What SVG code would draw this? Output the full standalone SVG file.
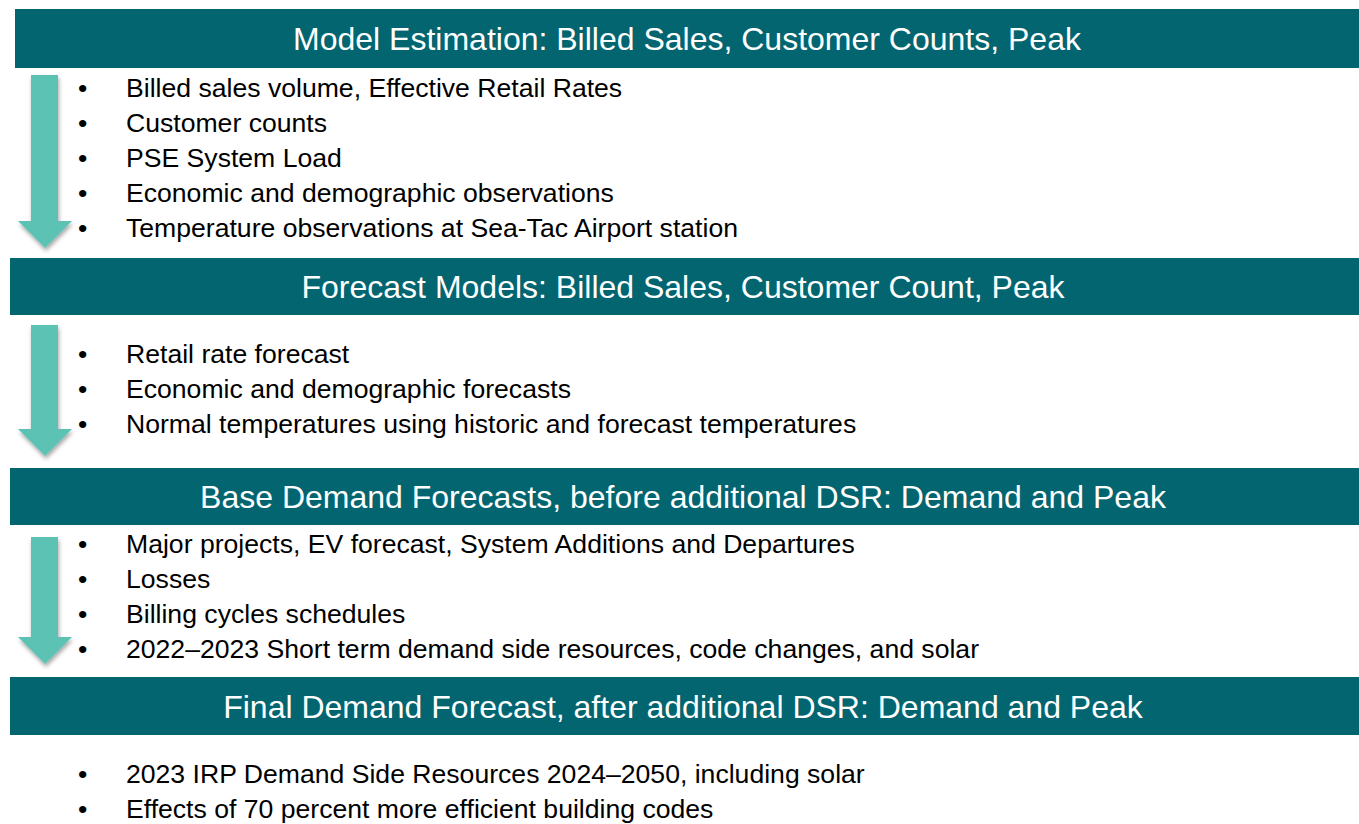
<svg xmlns="http://www.w3.org/2000/svg" width="1359" height="824" viewBox="0 0 1359 824">
<style>
.bar{fill:#02656F}
.hdr{font-family:"Liberation Sans",Arial,sans-serif;font-size:32px;fill:#fff;text-anchor:middle}
.txt{font-family:"Liberation Sans",Arial,sans-serif;font-size:26.6px;fill:#000}
.arrow{fill:#5BC2B4}
</style>
<defs>
<filter id="sh" x="-30%" y="-10%" width="160%" height="130%">
<feGaussianBlur in="SourceAlpha" stdDeviation="2"/>
<feOffset dx="1" dy="3" result="b"/>
<feComponentTransfer><feFuncA type="linear" slope="0.35"/></feComponentTransfer>
<feMerge><feMergeNode/><feMergeNode in="SourceGraphic"/></feMerge>
</filter>
</defs>
<g id="connectors">
<path class="arrow" filter="url(#sh)" d="M31,75 H58 V221 H72 L45,248 L18,221 H31 Z"/>
<path class="arrow" filter="url(#sh)" d="M31,325 H58 V429 H72 L45,456 L18,429 H31 Z"/>
<path class="arrow" filter="url(#sh)" d="M31,537 H58 V637 H72 L45,664 L18,637 H31 Z"/>
</g>
<g id="node1">
<rect class="bar" x="15" y="9" width="1344" height="59"/>
<text class="hdr" x="687" y="50">Model Estimation: Billed Sales, Customer Counts, Peak</text>
</g>
<g id="list1" class="txt">
<text x="78" y="97">•</text><text x="126" y="97">Billed sales volume, Effective Retail Rates</text>
<text x="78" y="132">•</text><text x="126" y="132">Customer counts</text>
<text x="78" y="167">•</text><text x="126" y="167">PSE System Load</text>
<text x="78" y="202">•</text><text x="126" y="202">Economic and demographic observations</text>
<text x="78" y="237">•</text><text x="126" y="237">Temperature observations at Sea-Tac Airport station</text>
</g>
<g id="node2">
<rect class="bar" x="10" y="258" width="1349" height="57"/>
<text class="hdr" x="683" y="298">Forecast Models: Billed Sales, Customer Count, Peak</text>
</g>
<g id="list2" class="txt">
<text x="78" y="363">•</text><text x="126" y="363">Retail rate forecast</text>
<text x="78" y="398">•</text><text x="126" y="398">Economic and demographic forecasts</text>
<text x="78" y="433">•</text><text x="126" y="433">Normal temperatures using historic and forecast temperatures</text>
</g>
<g id="node3">
<rect class="bar" x="10" y="468" width="1349" height="57"/>
<text class="hdr" x="683" y="508">Base Demand Forecasts, before additional DSR: Demand and Peak</text>
</g>
<g id="list3" class="txt">
<text x="78" y="553">•</text><text x="126" y="553">Major projects, EV forecast, System Additions and Departures</text>
<text x="78" y="588">•</text><text x="126" y="588">Losses</text>
<text x="78" y="623">•</text><text x="126" y="623">Billing cycles schedules</text>
<text x="78" y="658">•</text><text x="126" y="658">2022–2023 Short term demand side resources, code changes, and solar</text>
</g>
<g id="node4">
<rect class="bar" x="10" y="677" width="1349" height="58"/>
<text class="hdr" x="683" y="718">Final Demand Forecast, after additional DSR: Demand and Peak</text>
</g>
<g id="list4" class="txt">
<text x="78" y="783">•</text><text x="126" y="783">2023 IRP Demand Side Resources 2024–2050, including solar</text>
<text x="78" y="818">•</text><text x="126" y="818">Effects of 70 percent more efficient building codes</text>
</g>
</svg>
